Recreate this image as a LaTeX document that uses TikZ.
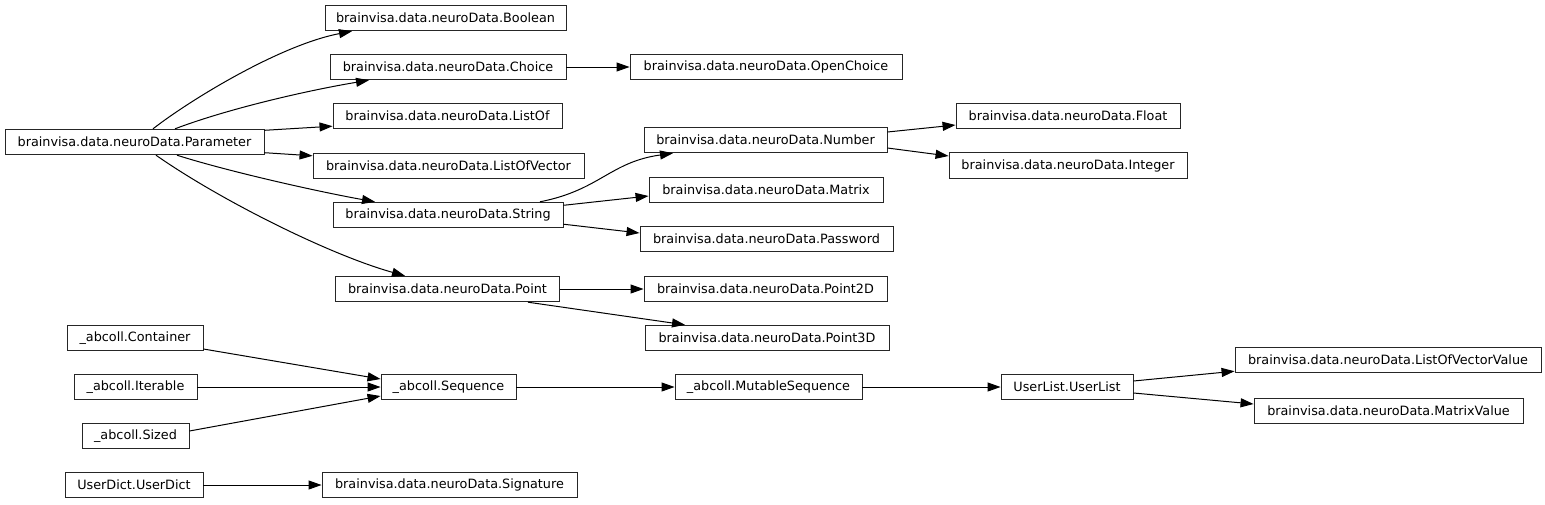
\documentclass[tikz,border=0pt]{standalone}
\usepackage{fontspec}
\setmainfont{DejaVu Sans}
\usetikzlibrary{arrows.meta}
\begin{document}
\begin{tikzpicture}[x=1pt,y=-1pt,
  cls/.style={draw=black!85,line width=0.9pt,inner sep=0pt,minimum height=25.5pt,
    font=\fontsize{12.8}{14}\selectfont,anchor=center},
  inh/.style={draw=black,line width=1pt,-{Triangle[length=13pt,width=9pt]}}]
\useasboundingbox (0,0) rectangle (1545,504);
% column 1
\node[cls,minimum width=259pt] (Parameter) at (134.5,142) {brainvisa.data.neuroData.Parameter};
\node[cls,minimum width=136pt] (Container) at (135,338) {\_abcoll.Container};
\node[cls,minimum width=123pt] (Iterable) at (135.5,387) {\_abcoll.Iterable};
\node[cls,minimum width=107pt] (Sized) at (135.5,436) {\_abcoll.Sized};
\node[cls,minimum width=138pt] (UserDict) at (134,485) {UserDict.UserDict};
% column 2
\node[cls,minimum width=241pt] (Boolean) at (445.5,18) {brainvisa.data.neuroData.Boolean};
\node[cls,minimum width=236pt] (Choice) at (448,67) {brainvisa.data.neuroData.Choice};
\node[cls,minimum width=229pt] (ListOf) at (447.5,116) {brainvisa.data.neuroData.ListOf};
\node[cls,minimum width=271pt] (ListOfVector) at (448.5,166) {brainvisa.data.neuroData.ListOfVector};
\node[cls,minimum width=230pt] (String) at (448,215) {brainvisa.data.neuroData.String};
\node[cls,minimum width=224pt] (Point) at (447.5,289) {brainvisa.data.neuroData.Point};
\node[cls,minimum width=135pt] (Sequence) at (448.5,387) {\_abcoll.Sequence};
\node[cls,minimum width=255pt] (Signature) at (449.5,485) {brainvisa.data.neuroData.Signature};
% column 3
\node[cls,minimum width=272pt] (OpenChoice) at (766,67) {brainvisa.data.neuroData.OpenChoice};
\node[cls,minimum width=243pt] (Number) at (765.5,140) {brainvisa.data.neuroData.Number};
\node[cls,minimum width=234pt] (Matrix) at (766,190) {brainvisa.data.neuroData.Matrix};
\node[cls,minimum width=253pt] (Password) at (766.5,239) {brainvisa.data.neuroData.Password};
\node[cls,minimum width=243pt] (Point2D) at (765.5,289) {brainvisa.data.neuroData.Point2D};
\node[cls,minimum width=244pt] (Point3D) at (767,338) {brainvisa.data.neuroData.Point3D};
\node[cls,minimum width=187pt] (MutableSequence) at (768.5,387) {\_abcoll.MutableSequence};
% column 4
\node[cls,minimum width=224pt] (Float) at (1068,116) {brainvisa.data.neuroData.Float};
\node[cls,minimum width=238pt] (Integer) at (1068,165.5) {brainvisa.data.neuroData.Integer};
\node[cls,minimum width=132pt] (UserList) at (1067,387) {UserList.UserList};
% column 5
\node[cls,minimum width=306pt] (ListOfVectorValue) at (1388,360) {brainvisa.data.neuroData.ListOfVectorValue};
\node[cls,minimum width=269pt] (MatrixValue) at (1388.5,411) {brainvisa.data.neuroData.MatrixValue};
% edges from Parameter
\draw[inh] ([xshift=18.5pt]Parameter.north) .. controls (190,100) and (280,45) .. ([xshift=-93.5pt]Boolean.south);
\draw[inh] ([xshift=40.5pt]Parameter.north) .. controls (230,108) and (310,90) .. ([xshift=-79pt]Choice.south);
\draw[inh] ([yshift=-1.5pt]Parameter.north east) -- ([yshift=3pt]ListOf.south west);
\draw[inh] ([yshift=2.5pt]Parameter.south east) -- ([yshift=-3pt]ListOfVector.north west);
\draw[inh] ([xshift=42.5pt]Parameter.south) .. controls (230,172) and (320,192) .. ([xshift=-73pt]String.north);
\draw[inh] ([xshift=21.5pt]Parameter.south) .. controls (220,200) and (330,255) .. ([xshift=-42.5pt]Point.north);
% other edges
\draw[inh] (Choice.east) -- (OpenChoice.west);
\draw[inh] ([xshift=92pt]String.north) .. controls (600,190) and (610,162) .. ([xshift=-92.5pt]Number.south);
\draw[inh] ([yshift=-3.5pt]String.north east) -- ([yshift=-6pt]Matrix.west);
\draw[inh] ([yshift=4pt]String.south east) -- ([yshift=6pt]Password.west);
\draw[inh] ([yshift=8pt]Number.east) -- ([yshift=-9pt]Float.west);
\draw[inh] ([yshift=-8pt]Number.east) -- ([yshift=9.5pt]Integer.west);
\draw[inh] (Point.east) -- (Point2D.west);
\draw[inh] ([xshift=80.5pt]Point.south) -- ([xshift=-82pt]Point3D.north);
\draw[inh] ([yshift=-11pt]Container.east) -- ([yshift=8pt]Sequence.west);
\draw[inh] (Iterable.east) -- (Sequence.west);
\draw[inh] ([yshift=5pt]Sized.east) -- ([yshift=-9pt]Sequence.west);
\draw[inh] (Sequence.east) -- (MutableSequence.west);
\draw[inh] (MutableSequence.east) -- (UserList.west);
\draw[inh] ([yshift=6pt]UserList.east) -- ([yshift=2pt]ListOfVectorValue.south west);
\draw[inh] ([yshift=-6pt]UserList.east) -- ([yshift=7pt]MatrixValue.west);
\draw[inh] (UserDict.east) -- (Signature.west);
\end{tikzpicture}
\end{document}
